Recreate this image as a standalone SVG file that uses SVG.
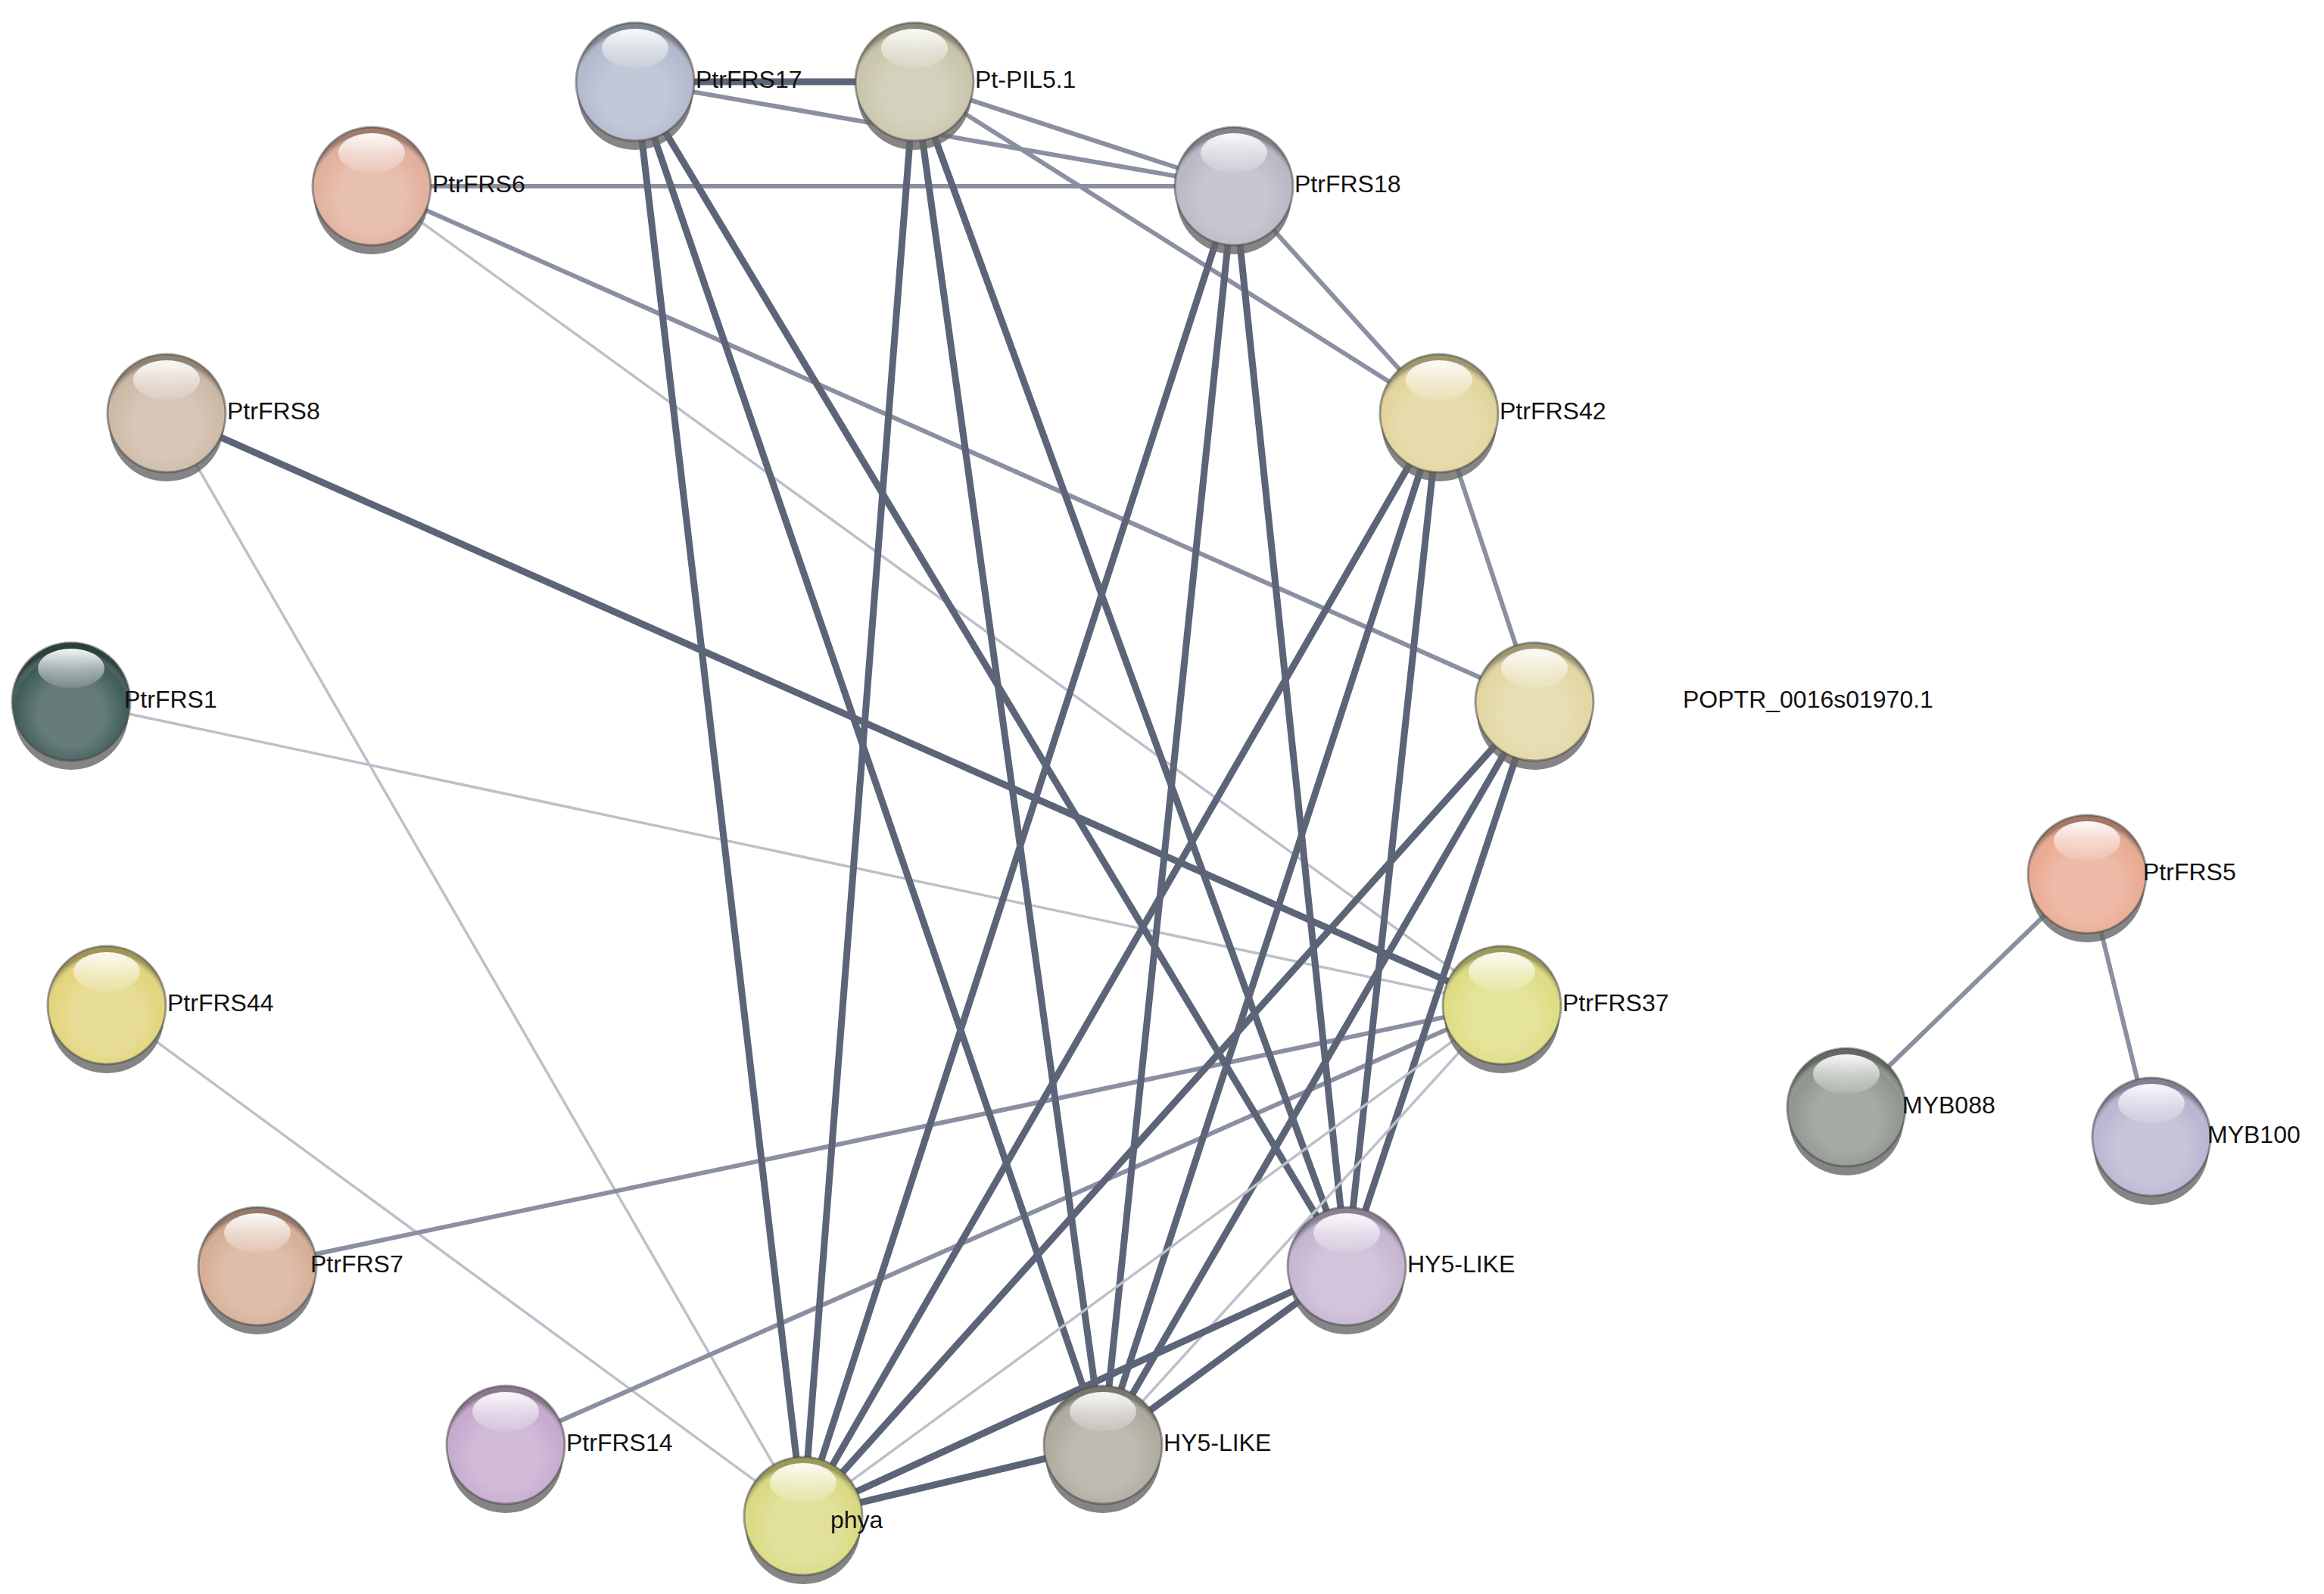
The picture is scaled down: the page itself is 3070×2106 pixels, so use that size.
<svg xmlns="http://www.w3.org/2000/svg" width="3070" height="2106" viewBox="0 0 3070 2106">
<style>
.e{stroke:#5c6478;stroke-width:9;fill:none}
.m{stroke:#8a90a2;stroke-width:6;fill:none}
.l{stroke:#bcc0ca;stroke-width:3.5;fill:none}
.t{font-family:"Liberation Sans",Arial,sans-serif;font-size:32px;fill:#111;dominant-baseline:middle}
.sh{fill:#666;opacity:.8}
.ov{fill:url(#shade)}
.hl{fill:url(#hl)}
.rim{fill:none;stroke:#444;stroke-width:3;stroke-opacity:.5}
</style>
<defs>
<radialGradient id="shade" cx="0.5" cy="0.6" r="0.55">
<stop offset="0.5" stop-color="#fff" stop-opacity="0.2"/>
<stop offset="0.88" stop-color="#fff" stop-opacity="0"/>
<stop offset="1" stop-color="#000" stop-opacity="0.3"/>
</radialGradient>
<linearGradient id="hl" x1="0" y1="0" x2="0" y2="1">
<stop offset="0" stop-color="#fff" stop-opacity="0.95"/>
<stop offset="1" stop-color="#fff" stop-opacity="0.1"/>
</linearGradient>
<ellipse id="shadow" class="sh" cx="0" cy="14" rx="76" ry="76"/>
<g id="ball">
<circle r="78" class="ov"/>
<ellipse class="hl" cx="0" cy="-44" rx="44" ry="26"/>
<circle r="78" class="rim"/>
</g>
</defs>
<rect width="3070" height="2106" fill="#fff"/>
<g id="connectors">
<line class="e" x1="839" y1="108" x2="1208" y2="108"/>
<line class="m" x1="839" y1="108" x2="1630" y2="246"/>
<line class="m" x1="1208" y1="108" x2="1630" y2="246"/>
<line class="m" x1="1208" y1="108" x2="1901" y2="546"/>
<line class="m" x1="491" y1="246" x2="1630" y2="246"/>
<line class="m" x1="491" y1="246" x2="2027" y2="927"/>
<line class="l" x1="491" y1="246" x2="1984" y2="1328"/>
<line class="e" x1="220" y1="546" x2="1984" y2="1328"/>
<line class="l" x1="220" y1="546" x2="1061" y2="2003"/>
<line class="l" x1="94" y1="927" x2="1984" y2="1328"/>
<line class="l" x1="141" y1="1328" x2="1061" y2="2003"/>
<line class="m" x1="340" y1="1673" x2="1984" y2="1328"/>
<line class="m" x1="668" y1="1909" x2="1984" y2="1328"/>
<line class="e" x1="839" y1="108" x2="1061" y2="2003"/>
<line class="e" x1="839" y1="108" x2="1457" y2="1909"/>
<line class="e" x1="839" y1="108" x2="1779" y2="1673"/>
<line class="e" x1="1208" y1="108" x2="1061" y2="2003"/>
<line class="e" x1="1208" y1="108" x2="1457" y2="1909"/>
<line class="e" x1="1208" y1="108" x2="1779" y2="1673"/>
<line class="e" x1="1630" y1="246" x2="1061" y2="2003"/>
<line class="e" x1="1630" y1="246" x2="1457" y2="1909"/>
<line class="e" x1="1630" y1="246" x2="1779" y2="1673"/>
<line class="m" x1="1630" y1="246" x2="1901" y2="546"/>
<line class="e" x1="1901" y1="546" x2="1061" y2="2003"/>
<line class="e" x1="1901" y1="546" x2="1457" y2="1909"/>
<line class="e" x1="1901" y1="546" x2="1779" y2="1673"/>
<line class="m" x1="1901" y1="546" x2="2027" y2="927"/>
<line class="e" x1="2027" y1="927" x2="1061" y2="2003"/>
<line class="e" x1="2027" y1="927" x2="1457" y2="1909"/>
<line class="e" x1="2027" y1="927" x2="1779" y2="1673"/>
<line class="l" x1="1984" y1="1328" x2="1061" y2="2003"/>
<line class="l" x1="1984" y1="1328" x2="1457" y2="1909"/>
<line class="e" x1="1779" y1="1673" x2="1061" y2="2003"/>
<line class="e" x1="1779" y1="1673" x2="1457" y2="1909"/>
<line class="e" x1="1457" y1="1909" x2="1061" y2="2003"/>
<line class="m" x1="2757" y1="1155" x2="2439" y2="1463"/>
<line class="m" x1="2757" y1="1155" x2="2842" y2="1502"/>
</g>
<g id="PtrFRS17" transform="translate(839,108)"><use href="#shadow"/><circle r="78" fill="#b2bacd"/><use href="#ball"/><text class="t" x="80" y="0">PtrFRS17</text></g>
<g id="Pt-PIL5.1" transform="translate(1208,108)"><use href="#shadow"/><circle r="78" fill="#c9c5ab"/><use href="#ball"/><text class="t" x="80" y="0">Pt-PIL5.1</text></g>
<g id="PtrFRS18" transform="translate(1630,246)"><use href="#shadow"/><circle r="78" fill="#b9b9c6"/><use href="#ball"/><text class="t" x="80" y="0">PtrFRS18</text></g>
<g id="PtrFRS6" transform="translate(491,246)"><use href="#shadow"/><circle r="78" fill="#e2b09c"/><use href="#ball"/><text class="t" x="80" y="0">PtrFRS6</text></g>
<g id="PtrFRS8" transform="translate(220,546)"><use href="#shadow"/><circle r="78" fill="#cdb9a6"/><use href="#ball"/><text class="t" x="80" y="0">PtrFRS8</text></g>
<g id="PtrFRS42" transform="translate(1901,546)"><use href="#shadow"/><circle r="78" fill="#e2d59c"/><use href="#ball"/><text class="t" x="80" y="0">PtrFRS42</text></g>
<g id="PtrFRS1" transform="translate(94,927)"><use href="#shadow"/><circle r="78" fill="#3f5b59"/><use href="#ball"/><text class="t" x="70" y="0">PtrFRS1</text></g>
<g id="POPTR_0016s01970.1" transform="translate(2027,927)"><use href="#shadow"/><circle r="78" fill="#e2d6a2"/><use href="#ball"/><text class="t" x="196" y="0">POPTR_0016s01970.1</text></g>
<g id="PtrFRS44" transform="translate(141,1328)"><use href="#shadow"/><circle r="78" fill="#e2d57c"/><use href="#ball"/><text class="t" x="80" y="0">PtrFRS44</text></g>
<g id="PtrFRS37" transform="translate(1984,1328)"><use href="#shadow"/><circle r="78" fill="#dedd82"/><use href="#ball"/><text class="t" x="80" y="0">PtrFRS37</text></g>
<g id="PtrFRS7" transform="translate(340,1673)"><use href="#shadow"/><circle r="78" fill="#d6ae96"/><use href="#ball"/><text class="t" x="70" y="0">PtrFRS7</text></g>
<g id="HY5-LIKE-1" transform="translate(1779,1673)"><use href="#shadow"/><circle r="78" fill="#c6b6d2"/><use href="#ball"/><text class="t" x="80" y="0">HY5-LIKE</text></g>
<g id="PtrFRS14" transform="translate(668,1909)"><use href="#shadow"/><circle r="78" fill="#c6aace"/><use href="#ball"/><text class="t" x="80" y="0">PtrFRS14</text></g>
<g id="HY5-LIKE-2" transform="translate(1457,1909)"><use href="#shadow"/><circle r="78" fill="#aeaa9e"/><use href="#ball"/><text class="t" x="80" y="0">HY5-LIKE</text></g>
<g id="phya" transform="translate(1061,2003)"><use href="#shadow"/><circle r="78" fill="#dada82"/><use href="#ball"/><text class="t" x="36" y="8">phya</text></g>
<g id="PtrFRS5" transform="translate(2757,1155)"><use href="#shadow"/><circle r="78" fill="#eaaa92"/><use href="#ball"/><text class="t" x="74" y="0">PtrFRS5</text></g>
<g id="MYB088" transform="translate(2439,1463)"><use href="#shadow"/><circle r="78" fill="#8e968e"/><use href="#ball"/><text class="t" x="74" y="0">MYB088</text></g>
<g id="MYB100" transform="translate(2842,1502)"><use href="#shadow"/><circle r="78" fill="#bab6d2"/><use href="#ball"/><text class="t" x="74" y="0">MYB100</text></g>
</svg>
